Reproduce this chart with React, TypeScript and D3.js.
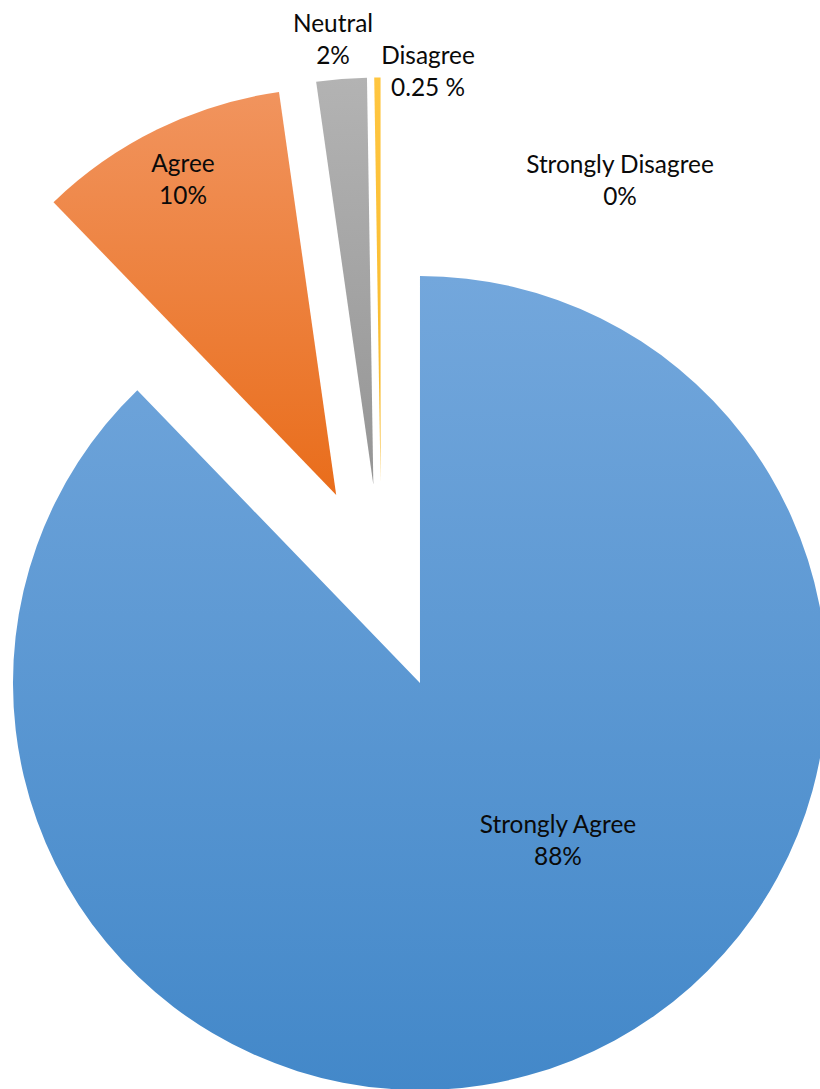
import React from "react";
import * as d3 from "d3";

const categories = ["Strongly Agree", "Agree", "Neutral", "Disagree", "Strongly Disagree"];
const values = [88, 10, 2, 0.25, 0];
const valueLabels = ["88%", "10%", "2%", "0.25 %", "0%"];
const colorsTop = ["#73A7DC", "#F1945E", "#B3B3B3", "#FFC640", "#5B9BD5"];
const colorsBottom = ["#4388C9", "#E96D1B", "#959595", "#F7B929", "#5B9BD5"];

const W = 820;
const H = 1089;
const CX = 381.4;
const CY = 587.5;
const R = 407;
const EXPLODE = 103;
// label anchor offsets (first line baseline) relative to pie centre
const labelOffsets: [number, number][] = [
  [176.6, 245.5],
  [-198.4, -415.5],
  [-48.4, -555.5],
  [46.6, -523.5],
  [238.6, -414.5],
];
const LINE = 31.5;

export default function App() {
  const pie = d3
    .pie<number>()
    .sort(null)
    .value((d) => d)
    .startAngle(0)
    .endAngle(2 * Math.PI);
  const arcs = pie(values);
  const arc = d3.arc<d3.PieArcDatum<number>>().innerRadius(0).outerRadius(R);

  return (
    <svg
      width={W}
      height={H}
      style={{ position: "absolute", left: 0, top: 0, background: "#fff" }}
      fontFamily="Lato, 'Open Sans', sans-serif"
    >
      <defs>
        {categories.map((c, i) => (
          <linearGradient key={c} id={`g${i}`} x1="0" y1="0" x2="0" y2="1">
            <stop offset="0" stopColor={colorsTop[i]} />
            <stop offset="1" stopColor={colorsBottom[i]} />
          </linearGradient>
        ))}
      </defs>
      <g transform={`translate(${CX},${CY})`}>
        {arcs.map((a, i) => {
          if (a.endAngle - a.startAngle <= 0) return null;
          const mid = (a.startAngle + a.endAngle) / 2;
          const dx = EXPLODE * Math.sin(mid);
          const dy = -EXPLODE * Math.cos(mid);
          return (
            <path
              key={categories[i]}
              d={arc(a) || ""}
              transform={`translate(${dx},${dy})`}
              fill={`url(#g${i})`}
            />
          );
        })}
        {categories.map((c, i) => (
          <text
            key={c}
            x={labelOffsets[i][0]}
            y={labelOffsets[i][1]}
            textAnchor="middle"
            fontSize={24.4}
            fill="#0a0a0a"
          >
            <tspan x={labelOffsets[i][0]}>{c}</tspan>
            <tspan x={labelOffsets[i][0]} dy={LINE}>
              {valueLabels[i]}
            </tspan>
          </text>
        ))}
      </g>
    </svg>
  );
}
